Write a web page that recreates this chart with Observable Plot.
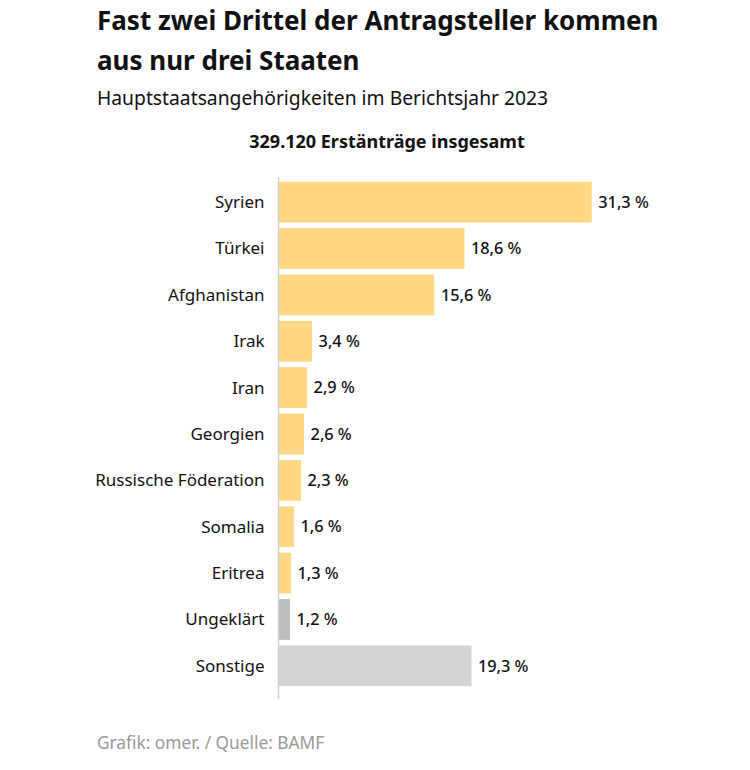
<!DOCTYPE html>
<html><head><meta charset="utf-8">
<script src="https://cdn.jsdelivr.net/npm/d3@7"></script>
<script src="https://cdn.jsdelivr.net/npm/@observablehq/plot@0.6"></script>
<style>
body{margin:0;background:#fff;font-family:"Noto Sans",sans-serif;color:#111;}
#wrap{position:relative;width:750px;height:770px;}
#t{position:absolute;left:97px;top:0px;font-size:26px;font-weight:700;line-height:40px;margin:0;white-space:nowrap;}
#s{position:absolute;left:97px;top:84px;font-size:19.3px;margin:0;}
#h{position:absolute;left:0;width:774px;top:129px;text-align:center;font-size:18px;font-weight:700;}
#c{position:absolute;left:0;top:160px;}
#cap{position:absolute;left:97px;top:731px;font-size:17.3px;color:#9a9a9a;}
</style></head><body>
<div id="wrap">
<div id="t">Fast zwei Drittel der Antragsteller kommen<br>aus nur drei Staaten</div>
<div id="s">Hauptstaatsangehörigkeiten im Berichtsjahr 2023</div>
<div id="h">329.120 Erstänträge insgesamt</div>
<div id="c"></div>
<div id="cap">Grafik: omer. / Quelle: BAMF</div>
</div>
<script>
const countries = ["Syrien","Türkei","Afghanistan","Irak","Iran","Georgien","Russische Föderation","Somalia","Eritrea","Ungeklärt","Sonstige"];
const shares = [31.3,18.6,15.6,3.4,2.9,2.6,2.3,1.6,1.3,1.2,19.3];
const groups = ["Land","Land","Land","Land","Land","Land","Land","Land","Land","Ungeklärt","Sonstige"];
const data = countries.map((c,i)=>({country:c, value:shares[i], group:groups[i], label:String(shares[i]).replace(".",",")+" %"}));
const chart = Plot.plot({
  width:750, height:550,
  marginLeft:278, marginRight:71, marginTop:19, marginBottom:21,
  style:{fontFamily:"'Noto Sans', sans-serif", background:"#fff"},
  x:{domain:[0,40], axis:null},
  y:{domain:countries, paddingInner:0.12, paddingOuter:0.06, round:false, label:null},
  color:{domain:["Land","Ungeklärt","Sonstige"], range:["#FFD884","#BDBDBD","#D4D4D4"]},
  marks:[
    Plot.barX(data,{x:"value", y:"country", fill:"group"}),
    Plot.ruleX([0],{stroke:"#d0d0d0", strokeWidth:1.5, insetTop:-2, insetBottom:-10}),
    Plot.text(data,{x:"value", y:"country", text:"label", textAnchor:"start", dx:6, fontSize:16.3, fontWeight:500, fill:"#111"}),
    Plot.axisY({tickSize:0, tickPadding:14, fontSize:17, label:null, color:"#111"})
  ]
});
chart.querySelectorAll('[aria-label="y-axis tick label"] text').forEach(t=>{t.style.fontSize="17px";});
document.getElementById("c").appendChild(chart);
</script>
</body></html>
